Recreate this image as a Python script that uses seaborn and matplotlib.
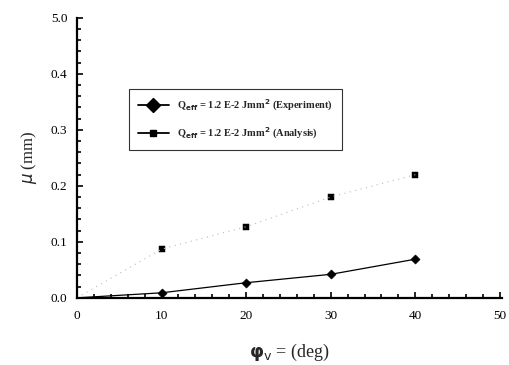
import matplotlib
matplotlib.use("Agg")
import matplotlib.pyplot as plt
import seaborn as sns
import pandas as pd
from matplotlib.ticker import MultipleLocator
from matplotlib.lines import Line2D

sns.set_theme(style="ticks")
plt.rcParams['font.family'] = ['Liberation Serif', 'DejaVu Serif']

angle = [0, 10, 20, 30, 40]
mu_experiment = [0.0, 0.009, 0.027, 0.042, 0.069]
mu_analysis = [0.0, 0.087, 0.127, 0.180, 0.220]
y_ticks = [0.0, 0.1, 0.2, 0.3, 0.4, 0.5]
y_tick_labels = ["0.0", "0.1", "0.2", "0.3", "0.4", "5.0"]
x_ticks = [0, 10, 20, 30, 40, 50]
label_exp = r"Q$_{\mathbf{eff}}$ = 1.2 E-2 Jmm$^{\mathbf{2}}$ (Experiment)"
label_ana = r"Q$_{\mathbf{eff}}$ = 1.2 E-2 Jmm$^{\mathbf{2}}$ (Analysis)"

df_exp = pd.DataFrame({"x": angle, "y": mu_experiment})
df_ana = pd.DataFrame({"x": angle, "y": mu_analysis})

fig = plt.figure(figsize=(5.1, 3.65), dpi=100)
ax = fig.add_axes([0.151, 0.184, 0.834, 0.767])

sns.lineplot(data=df_ana, x="x", y="y", ax=ax, color="#bbbbbb", lw=0.8,
             linestyle=(0, (1, 4)), legend=False)
sns.lineplot(data=df_exp, x="x", y="y", ax=ax, color="black", lw=0.9, legend=False)
sns.scatterplot(data=df_ana.iloc[1:], x="x", y="y", ax=ax, marker="s", s=18,
                color="black", edgecolor="black", legend=False)
sns.scatterplot(data=df_exp.iloc[1:], x="x", y="y", ax=ax, marker="D", s=22,
                color="black", edgecolor="black", legend=False)

h1 = Line2D([], [], color="black", lw=1.3, marker="D", markersize=7)
h2 = Line2D([], [], color="black", lw=1.3, marker="s", markersize=4.5)
leg = ax.legend([h1, h2], [label_exp, label_ana], loc="upper left",
                bbox_to_anchor=(0.11, 0.765), frameon=True, fancybox=False,
                edgecolor="black", prop={"size": 7.5, "weight": "bold"},
                handlelength=3, borderpad=0.85, labelspacing=1.2)
leg.get_frame().set_linewidth(0.8)

ax.set_xlim(0, 50.3)
ax.set_ylim(0, 0.5)
ax.set_xticks(x_ticks)
ax.set_xticklabels([str(t) for t in x_ticks])
ax.set_yticks(y_ticks)
ax.set_yticklabels(y_tick_labels)
ax.xaxis.set_minor_locator(MultipleLocator(2))
ax.yaxis.set_minor_locator(MultipleLocator(0.02))
ax.tick_params(axis="both", which="both", direction="in", colors="black",
               labelsize=9.5, width=1.2)
ax.tick_params(which="major", length=4)
ax.tick_params(which="minor", length=3)
ax.tick_params(axis="x", pad=9)
ax.tick_params(axis="y", pad=7)
for side in ["top", "right"]:
    ax.spines[side].set_visible(False)
for side in ["left", "bottom"]:
    ax.spines[side].set_linewidth(1.6)
    ax.spines[side].set_color("black")

ax.set_xlabel(r"$\mathbf{\varphi}_{\mathrm{v}}$ = (deg)", fontsize=13, labelpad=14)
ax.set_ylabel(r"$\mu$ (mm)", fontsize=12, labelpad=8)

fig.savefig("out.png", dpi=100)
